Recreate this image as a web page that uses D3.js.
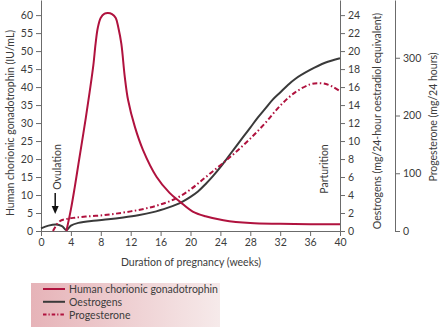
<!DOCTYPE html>
<html><head><meta charset="utf-8">
<script src="https://cdn.jsdelivr.net/npm/d3@7"></script>
<style>
body{margin:0;background:#fff;}
svg{display:block;font-family:Lato,"Open Sans",sans-serif;}
</style></head>
<body><svg id="c" width="440" height="327"></svg>
<script>
// ---- data ----
const weeks = [0,4,8,12,16,20,24,28,32,36,40];
const hcgTicks = [0,5,10,15,20,25,30,35,40,45,50,55,60];
const oesTicks = [0,2,4,6,8,10,12,14,16,18,20,22,24];
const progTicks = [0,100,200,300];

const hcgWeek = [3.4,4,4.5,5,5.5,6,6.5,7,7.3,7.6,8,8.5,8.95,9.5,10,10.35,10.75,11.2,11.65,12.55,13.65,15.45,17.2,18.6,20.3,22,24.4,28,32,36,40];
const hcgVal  = [0,6,12,18.5,25,31.5,38.5,46,52,56.5,59.3,60.4,60.6,60.3,59.2,56.5,52,43,36.4,29,22.5,15.1,10.6,8.1,5.4,4.1,3.0,2.2,2.0,1.9,1.85];

const oesWeek = [0,1,2,2.8,3.4,4,5,7,9,11,13,15,17,18,19,20,21,22,23,24,25,26,27,28,29,30,31,32,33,34,36,38,40];
const oesVal  = [0.3,0.6,0.73,0.55,0.1,0.6,0.9,1.15,1.3,1.5,1.75,2.1,2.6,2.9,3.3,3.8,4.4,5.2,6.1,7.1,8.2,9.3,10.4,11.5,12.6,13.6,14.6,15.4,16.2,16.9,17.9,18.7,19.2];

const progWeek = [1.6,2.5,3.5,4.5,6,8,10,12,14,16,18,20,22,24,26,28,30,32,34,36,37,38,39,40];
const progVal  = [0,17,21,23,25,27,30,34,39,46,56,72,93,114,136,160,187,217,240,254,256,255,250,242];

const legendLabels = ["Human chorionic gonadotrophin","Oestrogens","Progesterone"];

// ---- layout ----
const svg = d3.select("#c");
const red = "#b0123e", dark = "#3a3a3a", axisCol = "#6b6b6b", txt = "#3c3c3c";
const x = d3.scaleLinear().domain([0,40]).range([41,340]);
const yH = d3.scaleLinear().domain([0,64.2]).range([231,0]);
const yO = d3.scaleLinear().domain([0,25.68]).range([231,0]);
const yP = d3.scaleLinear().domain([0,400]).range([231,0]);

// legend box
const defs = svg.append("defs");
const g = defs.append("linearGradient").attr("id","lg").attr("x1","0").attr("x2","1");
g.append("stop").attr("offset","0").attr("stop-color","#e6b3b8");
g.append("stop").attr("offset","1").attr("stop-color","#f6eaea");
svg.append("rect").attr("x",31).attr("y",283).attr("width",189).attr("height",44).attr("fill","url(#lg)");

function styleAxis(sel){
  sel.selectAll("path,line").attr("stroke",axisCol).attr("stroke-width",1);
  sel.selectAll("text").attr("fill",txt).style("font-size","10.5px").style("font-family","Lato,sans-serif");
}
const ax = svg.append("g").attr("transform","translate(0,231)")
  .call(d3.axisBottom(x).tickValues(weeks).tickSize(5).tickSizeOuter(0).tickPadding(3));
styleAxis(ax);
const al = svg.append("g").attr("transform","translate(41,0)")
  .call(d3.axisLeft(yH).tickValues(hcgTicks).tickSize(5).tickSizeOuter(0).tickPadding(3));
styleAxis(al);
const ar = svg.append("g").attr("transform","translate(340,0)")
  .call(d3.axisRight(yO).tickValues(oesTicks).tickSize(5).tickSizeOuter(0).tickPadding(3));
styleAxis(ar);
const ap = svg.append("g").attr("transform","translate(395,0)")
  .call(d3.axisRight(yP).tickValues(progTicks).tickSize(5).tickSizeOuter(0).tickPadding(3));
styleAxis(ap);

// axis titles
function vlabel(tx,ty,t){
  svg.append("text").attr("transform",`translate(${tx},${ty}) rotate(-90)`)
    .attr("text-anchor","middle").attr("dominant-baseline","central")
    .attr("fill",txt).style("font-size","10.5px").text(t);
}
vlabel(10,123,"Human chorionic gonadotrophin (IU/mL)");
vlabel(377,121,"Oestrogens (mg/24-hour oestradiol equivalent)");
vlabel(433,117,"Progesterone (mg/24 hours)");
svg.append("text").attr("x",191).attr("y",266).attr("text-anchor","middle")
  .attr("fill",txt).style("font-size","10.5px").text("Duration of pregnancy (weeks)");

// lines
const smooth = d3.curveCatmullRom.alpha(0.5);
const lineGen = (xs,ys,yScale)=> d3.line().curve(smooth)
  .x((d,i)=>x(xs[i])).y((d,i)=>yScale(ys[i]))(xs);
svg.append("path").attr("d",lineGen(oesWeek,oesVal,yO)).attr("fill","none")
  .attr("stroke",dark).attr("stroke-width",2);
svg.append("path").attr("d",lineGen(progWeek,progVal,yP)).attr("fill","none")
  .attr("stroke",red).attr("stroke-width",2).attr("stroke-dasharray","5,2.5,1.5,2.5");
svg.append("path").attr("d",lineGen(hcgWeek,hcgVal,yH)).attr("fill","none")
  .attr("stroke",red).attr("stroke-width",2);

// annotations
vlabel(57,167,"Ovulation");
vlabel(324,169,"Parturition");
svg.append("line").attr("x1",x(1.9)).attr("x2",x(1.9)).attr("y1",193).attr("y2",206)
  .attr("stroke","#111").attr("stroke-width",1.5);
svg.append("path").attr("d",`M${x(1.9)-3.5},206 L${x(1.9)+3.5},206 L${x(1.9)},214 Z`).attr("fill","#111");

// legend
const lcols=[red,dark,red], ldash=[null,null,"3.5,2,1.2,2"];
legendLabels.forEach((t,i)=>{
  const yy=289+i*12.8;
  svg.append("line").attr("x1",43).attr("x2",65).attr("y1",yy).attr("y2",yy)
    .attr("stroke",lcols[i]).attr("stroke-width",2).attr("stroke-dasharray",ldash[i]);
  svg.append("text").attr("x",69).attr("y",yy).attr("dominant-baseline","central")
    .attr("fill",txt).style("font-size","10.5px").text(t);
});
</script></body></html>
